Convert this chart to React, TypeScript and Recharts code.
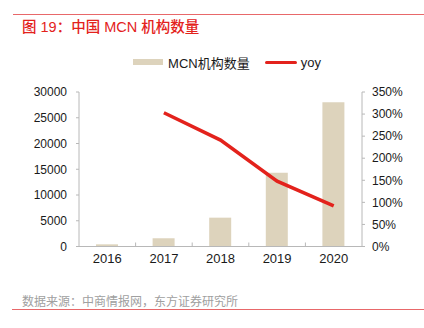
import { ComposedChart, Bar, Line, XAxis, YAxis } from 'recharts';

const years = ['2016', '2017', '2018', '2019', '2020'];
const mcnCount = [420, 1600, 5600, 14300, 28000];
const yoyPct = [null, 303, 241, 148, 92];
const countTicks = [0, 5000, 10000, 15000, 20000, 25000, 30000];
const pctTicks = [0, 50, 100, 150, 200, 250, 300, 350];

const data = years.map((year, i) => ({ year, count: mcnCount[i], yoy: yoyPct[i] }));

const FONT = '"Liberation Sans", Arial, "Noto Sans CJK SC", sans-serif';
const CJK = '"Liberation Sans", "Noto Sans CJK SC", sans-serif';
const RED = '#e3221c';
const BAR = '#ddd3bc';
const AXIS = '#b8b8b8';
const TEXT = '#1a1a1a';

// category label plus a small upward mark at the band boundary
const YearTick = (props: any) => {
  const { x, y, payload, index } = props;
  const half = payload.offset ?? 0;
  return (
    <g>
      <text x={x} y={y + 16} textAnchor="middle" fontSize={13} fill={TEXT} fontFamily={FONT}>
        {payload.value}
      </text>
      {index < years.length - 1 && (
        <line x1={x + half} x2={x + half} y1={y} y2={y - 4} stroke={AXIS} />
      )}
    </g>
  );
};

export default function App() {
  return (
    <div style={{ position: 'absolute', left: 0, top: 0, width: 424, height: 328, background: '#fff', fontFamily: CJK }}>
      <div style={{ position: 'absolute', left: 13, top: 14, width: 411, height: 1, background: '#e8686a' }} />
      <div style={{ position: 'absolute', left: 22, top: 18, fontSize: 14.5, lineHeight: '18px', color: RED, fontWeight: 500, whiteSpace: 'nowrap' }}>
        图 19：中国 MCN 机构数量
      </div>

      <div style={{ position: 'absolute', left: 12, top: 53, width: 424, height: 18, display: 'flex', justifyContent: 'center', alignItems: 'center', fontSize: 13, color: TEXT }}>
        <span style={{ display: 'inline-block', width: 30, height: 6, background: BAR, marginLeft: 6, marginRight: 5 }} />
        <span>MCN机构数量</span>
        <span style={{ display: 'inline-block', width: 32, height: 3, background: RED, borderRadius: 2, marginLeft: 15, marginRight: 4 }} />
        <span>yoy</span>
      </div>

      <div style={{ position: 'absolute', left: 0, top: 0 }}>
        <ComposedChart width={424} height={328} data={data} margin={{ top: 92, right: 0, bottom: 0, left: 0 }}>
          <XAxis
            dataKey="year"
            height={81.5}
            stroke={AXIS}
            tickLine={false}
            tickSize={0}
            tickMargin={0}
            tick={<YearTick />}
            interval={0}
          />
          <YAxis
            yAxisId="count"
            width={79}
            domain={[0, 30000]}
            ticks={countTicks}
            stroke={AXIS}
            tickSize={3}
            tickMargin={9}
            tick={{ fill: TEXT, fontSize: 12, fontFamily: FONT }}
          />
          <YAxis
            yAxisId="pct"
            orientation="right"
            width={62}
            domain={[0, 350]}
            ticks={pctTicks}
            stroke={AXIS}
            tickSize={3}
            tickMargin={7}
            tickFormatter={(v: number) => `${v}%`}
            tick={{ fill: TEXT, fontSize: 12, fontFamily: FONT, textAnchor: 'start' }}
          />
          <Bar yAxisId="count" dataKey="count" fill={BAR} barSize={22} isAnimationActive={false} />
          <Line
            yAxisId="pct"
            dataKey="yoy"
            stroke={RED}
            strokeWidth={3.5}
            dot={false}
            type="linear"
            isAnimationActive={false}
          />
        </ComposedChart>
      </div>

      <div style={{ position: 'absolute', left: 22, top: 294, fontSize: 12, lineHeight: '16px', color: '#a0a0a0', whiteSpace: 'nowrap' }}>
        数据来源：中商情报网，东方证券研究所
      </div>
      <div style={{ position: 'absolute', left: 12, top: 309, width: 412, height: 1, background: '#e8686a' }} />
    </div>
  );
}
